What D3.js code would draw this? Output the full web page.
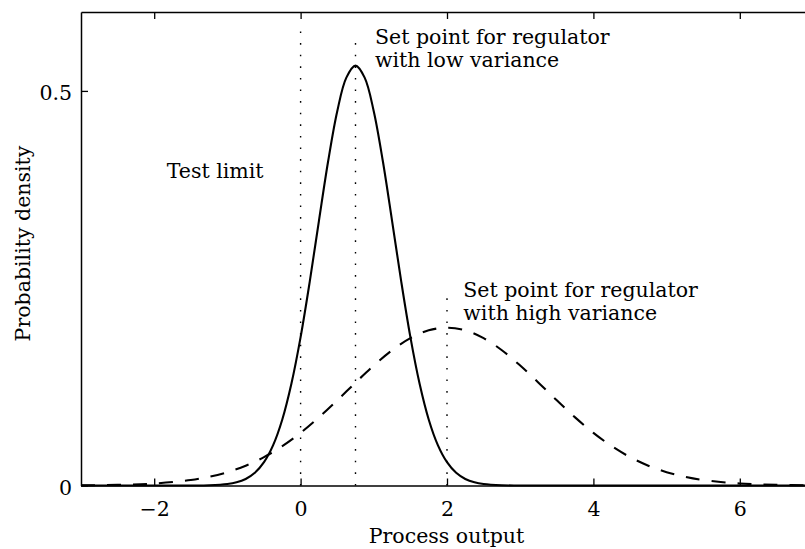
<!DOCTYPE html>
<html>
<head>
<meta charset="utf-8">
<script src="https://cdn.jsdelivr.net/npm/d3@7"></script>
<style>
  html, body { margin: 0; padding: 0; background: #fff; }
  svg text { font-family: "DejaVu Serif", serif; fill: #000; }
</style>
</head>
<body>
<svg id="chart" width="805" height="549"></svg>
<script>
// Low-variance regulator: output density
const lowX = [-3, -1.5, -1.25, -1, -0.875, -0.75, -0.625, -0.5, -0.375, -0.25, -0.125, 0, 0.125, 0.25, 0.375, 0.5, 0.625, 0.75,
              0.875, 1, 1.125, 1.25, 1.375, 1.5, 1.625, 1.75, 1.875, 2, 2.125, 2.25, 2.375, 2.5, 2.75, 3, 7];
const lowY = [0, 0, 0.0003, 0.0018, 0.0040, 0.0083, 0.0161, 0.0296, 0.0512, 0.0837, 0.1292, 0.1880, 0.2584, 0.3351, 0.4102, 0.4740, 0.5168, 0.5320,
              0.5168, 0.4740, 0.4102, 0.3351, 0.2584, 0.1880, 0.1292, 0.0837, 0.0512, 0.0296, 0.0161, 0.0083, 0.0040, 0.0018, 0.0003, 0, 0];

// High-variance regulator: output density
const highX = [-3, -2.5, -2, -1.5, -1.25, -1, -0.75, -0.5, -0.25, 0, 0.25, 0.5, 0.75, 1, 1.25, 1.5, 1.75, 2,
               2.25, 2.5, 2.75, 3, 3.25, 3.5, 3.75, 4, 4.25, 4.5, 4.75, 5, 5.25, 5.5, 6, 6.5, 7];
const highY = [0.0002, 0.0008, 0.0025, 0.0069, 0.0110, 0.0169, 0.0251, 0.0360, 0.0499, 0.0667, 0.0863, 0.1079, 0.1303, 0.1520, 0.1714, 0.1867, 0.1966, 0.2000,
               0.1966, 0.1867, 0.1714, 0.1520, 0.1303, 0.1079, 0.0863, 0.0667, 0.0499, 0.0360, 0.0251, 0.0169, 0.0110, 0.0069, 0.0025, 0.0008, 0.0002];

// Vertical reference markers: test limit and the two set points
const markerX = [0, 0.75, 2];
const markerTop = [0.587, 0.572, 0.250];

const xTicks = [-2, 0, 2, 4, 6];
const yTicks = [0, 0.5];
const yTickLabels = ["0", "0.5"];

const margin = { left: 81, top: 12, right: 813, bottom: 485.5 };

const svg = d3.select("#chart");
const x = d3.scaleLinear().domain([-3, 7]).range([margin.left, margin.right]);
const y = d3.scaleLinear().domain([0, 0.6]).range([margin.bottom, margin.top]);

const tickLen = 7;
const fs = 20.5;

// Axis box with inward ticks
const axisColor = "#000";
const bottomAxis = d3.axisBottom(x).tickValues(xTicks).tickSizeInner(-tickLen).tickSizeOuter(0)
  .tickFormat(d => d < 0 ? "\u2212" + Math.abs(d) : String(d));
const topAxis = d3.axisTop(x).tickValues(xTicks).tickSizeInner(-tickLen).tickSizeOuter(0).tickFormat("");
const leftAxis = d3.axisLeft(y).tickValues(yTicks).tickSizeInner(-tickLen).tickSizeOuter(0)
  .tickFormat((d, i) => yTickLabels[i]);
const rightAxis = d3.axisRight(y).tickValues(yTicks).tickSizeInner(-tickLen).tickSizeOuter(0).tickFormat("");

function styleAxis(g) {
  g.select(".domain").attr("stroke", axisColor).attr("stroke-width", 1.5);
  g.selectAll(".tick line").attr("stroke", axisColor).attr("stroke-width", 1.3);
  g.selectAll(".tick text").attr("font-family", "DejaVu Serif").attr("font-size", fs).attr("fill", "#000");
}

// Reference markers (dotted)
svg.append("g").selectAll("line").data(markerX).join("line")
  .attr("x1", d => x(d)).attr("x2", d => x(d))
  .attr("y1", y(0)).attr("y2", (d, i) => y(markerTop[i]))
  .attr("stroke", "#000").attr("stroke-width", 1.4)
  .attr("stroke-dasharray", "1.6 10");

// Density curves
const lowData = lowX.map((v, i) => [v, lowY[i]]);
const highData = highX.map((v, i) => [v, highY[i]]);
const line = d3.line().x(d => x(d[0])).y(d => y(d[1])).curve(d3.curveCatmullRom.alpha(0.5));

svg.append("path").datum(highData).attr("d", line)
  .attr("fill", "none").attr("stroke", "#000").attr("stroke-width", 2.1)
  .attr("stroke-dasharray", "14 12");

svg.append("path").datum(lowData).attr("d", line)
  .attr("fill", "none").attr("stroke", "#000").attr("stroke-width", 2.1);

const gb = svg.append("g").attr("transform", `translate(0,${margin.bottom})`).call(bottomAxis).call(styleAxis);
gb.selectAll(".tick text").attr("dy", null).attr("y", 30);
svg.append("g").attr("transform", `translate(0,${margin.top})`).call(topAxis).call(styleAxis);
const gl = svg.append("g").attr("transform", `translate(${margin.left},0)`).call(leftAxis).call(styleAxis);
gl.selectAll(".tick text").attr("dy", null).attr("x", -9).attr("y", 9);
svg.append("g").attr("transform", `translate(${margin.right},0)`).call(rightAxis).call(styleAxis);

// Axis titles
svg.append("text").attr("x", 446.5).attr("y", 543).attr("text-anchor", "middle")
  .attr("font-size", fs).text("Process output");
svg.append("text").attr("transform", "translate(29.5,243.5) rotate(-90)").attr("text-anchor", "middle")
  .attr("font-size", fs).text("Probability density");

// Annotations
const notes = [
  { x: 166.7, y: 178.3, lines: ["Test limit"] },
  { x: 375, y: 44, lines: ["Set point for regulator", "with low variance"] },
  { x: 463.3, y: 297, lines: ["Set point for regulator", "with high variance"] }
];
notes.forEach(n => {
  const t = svg.append("text").attr("x", n.x).attr("y", n.y).attr("font-size", fs);
  n.lines.forEach((s, i) => t.append("tspan").attr("x", n.x).attr("dy", i === 0 ? 0 : 22.7).text(s));
});
</script>
</body>
</html>
